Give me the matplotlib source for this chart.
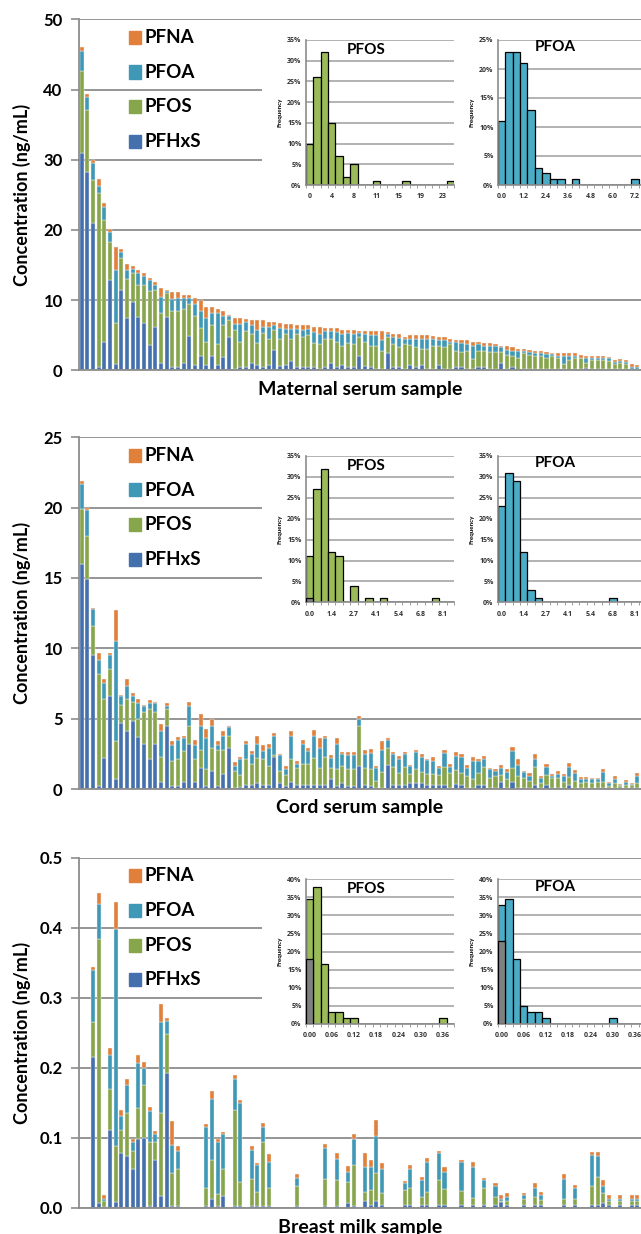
import matplotlib
matplotlib.use('Agg')
import matplotlib.pyplot as plt
from matplotlib.patches import Rectangle
import numpy as np

plt.rcParams['font.family'] = ['Lato', 'DejaVu Sans']
plt.rcParams['font.weight'] = 'bold'

# ---------------- data: maternal serum (ng/mL), samples sorted by total ----------------
hx1 = [30.9, 28.3, 21.0, 0.4, 4.1, 12.8, 0.9, 11.5, 7.5, 9.8,
       7.6, 6.8, 3.6, 6.2, 1.0, 7.6, 0.4, 0.4, 1.1, 4.9,
       0.7, 2.1, 0.7, 2.1, 0.8, 1.9, 4.7, 0.2, 0.4, 0.4,
       1.1, 0.7, 0.4, 0.7, 2.9, 0.6, 0.7, 1.3, 0.4, 0.4,
       0.4, 0.4, 0.2, 0.4, 1.1, 0.4, 0.7, 0.4, 0.4, 2.1,
       0.6, 0.4, 0.2, 0.2, 2.4, 0.4, 0.4, 0.2, 0.8, 0.5,
       0.7, 0.2, 0.2, 0.7, 0.2, 0.2, 0.4, 0.5, 0.2, 0.2,
       0.4, 0.4, 0.2, 0.2, 1.1, 0.2, 0.4, 0.1, 0.2, 0.2,
       0.2, 0.2, 0.2, 0.2, 0.2, 0.2, 0.1, 0.2, 0.2, 0.3,
       0.2, 0.2, 0.2, 0.2, 0.2, 0.2, 0.2, 0.1, 0.1]
os1 = [11.7, 8.8, 6.1, 24.8, 17.3, 5.5, 5.9, 4.5, 5.5, 4.0,
       4.6, 5.3, 7.7, 5.3, 7.1, 3.4, 8.0, 8.0, 7.6, 4.6,
       7.0, 3.9, 3.4, 4.3, 2.9, 4.5, 2.4, 5.6, 3.7, 5.2,
       4.1, 3.2, 4.9, 3.8, 2.8, 3.9, 4.5, 3.2, 4.7, 4.3,
       4.6, 3.5, 3.5, 4.0, 3.4, 3.7, 2.7, 3.5, 3.3, 2.7,
       3.5, 3.0, 3.2, 2.6, 2.3, 3.3, 2.9, 3.5, 2.8, 2.8,
       2.3, 2.9, 3.2, 2.7, 3.1, 3.5, 2.4, 2.1, 2.6, 1.4,
       2.4, 2.4, 2.4, 2.4, 1.5, 2.0, 1.6, 1.7, 2.3, 2.0,
       1.9, 1.8, 1.5, 1.8, 1.5, 0.7, 1.4, 1.5, 1.5, 0.7,
       1.3, 1.2, 1.3, 1.1, 0.7, 0.8, 0.7, 0.1, 0.1]
oa1 = [2.9, 1.9, 2.4, 1.1, 1.8, 1.4, 7.5, 0.8, 1.3, 0.6,
       1.6, 1.3, 1.5, 0.7, 2.4, 0.3, 1.7, 1.9, 1.6, 0.8,
       1.7, 2.4, 3.4, 1.8, 4.5, 1.3, 0.6, 0.8, 2.5, 1.3,
       1.2, 1.9, 0.9, 1.7, 0.7, 1.5, 0.7, 1.4, 0.8, 1.1,
       0.9, 1.6, 1.4, 1.2, 1.1, 1.3, 1.8, 1.4, 1.5, 0.5,
       1.1, 1.6, 1.6, 1.5, 0.4, 1.0, 1.3, 0.8, 0.9, 1.2,
       1.5, 1.4, 1.1, 0.9, 1.0, 0.4, 1.2, 1.3, 0.9, 1.8,
       0.9, 0.7, 0.8, 0.8, 0.7, 0.7, 0.8, 1.0, 0.3, 0.4,
       0.3, 0.5, 0.6, 0.3, 0.4, 1.1, 0.6, 0.3, 0.1, 0.8,
       0.3, 0.4, 0.3, 0.4, 0.3, 0.3, 0.3, 0.3, 0.2]
na1 = [0.5, 0.4, 0.4, 1.0, 0.7, 0.4, 3.2, 0.5, 0.8, 0.4,
       0.5, 0.5, 0.4, 0.4, 1.2, 0.2, 1.0, 0.8, 0.4, 0.4,
       0.9, 1.6, 1.5, 0.8, 0.6, 0.8, 0.2, 0.9, 0.9, 0.4,
       0.7, 1.3, 1.0, 0.7, 0.5, 0.7, 0.7, 0.7, 0.5, 0.6,
       0.5, 0.7, 1.1, 0.4, 0.4, 0.6, 0.6, 0.5, 0.5, 0.3,
       0.45, 0.6, 0.65, 1.35, 0.3, 0.5, 0.6, 0.3, 0.5, 0.5,
       0.5, 0.5, 0.4, 0.4, 0.4, 0.4, 0.3, 0.4, 0.6, 0.7,
       0.4, 0.4, 0.5, 0.3, 0.2, 0.5, 0.5, 0.2, 0.2, 0.3,
       0.3, 0.2, 0.3, 0.2, 0.4, 0.5, 0.4, 0.5, 0.4, 0.3,
       0.2, 0.2, 0.2, 0.2, 0.2, 0.3, 0.2, 0.35, 0.3]

# ---------------- data: cord serum (ng/mL) ----------------
hx2 = [16.0, 14.9, 9.5, 0.2, 2.2, 6.6, 0.7, 4.7, 4.1, 4.8,
       3.7, 3.2, 2.1, 3.2, 0.5, 4.5, 0.2, 0.2, 0.5, 3.2,
       0.5, 1.5, 0.2, 1.3, 0.2, 1.1, 2.9, 0.1, 0.15, 0.3,
       0.3, 0.45, 0.3, 0.3, 2.3, 0.45, 0.2, 0.5, 0.3, 0.3,
       0.3, 0.3, 0.3, 0.3, 0.7, 0.2, 0.45, 0.2, 0.2, 1.6,
       0.3, 0.24, 0.07, 0.1, 1.7, 0.26, 0.26, 0.26, 0.4, 0.4,
       0.4, 0.26, 0.26, 0.26, 0.26, 0.05, 0.35, 0.26, 0.1, 0.1,
       0.26, 0.26, 0.1, 0.1, 0.5, 0.1, 0.5, 0.1, 0.1, 0.05,
       0.26, 0.05, 0.26, 0.05, 0.1, 0.1, 0.26, 0.05, 0.1, 0.1,
       0.05, 0.05, 0.05, 0.05, 0.05, 0.05, 0.05, 0.05, 0.07]
os2 = [3.9, 3.1, 2.1, 8.0, 4.2, 1.9, 2.7, 1.3, 2.3, 1.4,
       1.3, 2.3, 3.6, 2.3, 1.8, 1.2, 1.8, 1.9, 2.2, 1.3,
       1.6, 1.3, 1.2, 1.6, 2.6, 1.7, 0.9, 1.2, 0.85, 1.8,
       1.5, 1.75, 1.8, 1.3, 0.1, 0.85, 0.8, 1.6, 1.2, 1.5,
       1.5, 1.9, 1.2, 2.0, 0.8, 1.2, 1.15, 1.2, 1.2, 2.9,
       1.2, 1.2, 0.5, 1.1, 1.2, 1.3, 0.9, 1.3, 0.7, 1.0,
       0.8, 0.8, 0.8, 0.7, 1.3, 1.1, 1.0, 0.9, 0.8, 0.6,
       0.9, 1.3, 0.7, 0.8, 0.5, 0.6, 1.0, 0.8, 0.7, 0.5,
       1.3, 0.35, 0.7, 0.75, 0.7, 0.4, 0.6, 0.5, 0.3, 0.4,
       0.35, 0.45, 0.45, 0.15, 0.35, 0.15, 0.25, 0.2, 0.35]
oa2 = [1.8, 1.8, 1.2, 1.0, 1.1, 1.0, 7.1, 0.6, 0.9, 0.4,
       1.1, 0.4, 0.4, 0.6, 1.8, 0.2, 1.1, 1.4, 0.9, 1.4,
       1.0, 1.7, 2.2, 1.6, 0.3, 1.0, 0.6, 0.3, 1.1, 1.1,
       0.7, 1.0, 0.6, 1.3, 1.4, 1.1, 0.4, 1.7, 0.3, 1.4,
       0.9, 1.6, 1.4, 1.3, 0.7, 1.8, 0.9, 1.0, 1.0, 0.5,
       1.0, 1.1, 0.9, 1.6, 0.6, 0.9, 1.0, 0.9, 0.5, 1.2,
       1.1, 1.0, 0.9, 0.5, 1.0, 0.4, 1.0, 1.1, 0.6, 1.3,
       0.8, 0.6, 0.6, 0.4, 0.5, 0.5, 1.2, 0.8, 0.4, 0.4,
       0.6, 0.4, 0.6, 0.1, 0.3, 0.4, 0.7, 0.6, 0.3, 0.2,
       0.3, 0.2, 0.7, 0.2, 0.3, 0.1, 0.2, 0.1, 0.5]
na2 = [0.2, 0.2, 0.1, 0.5, 0.3, 0.2, 2.2, 0.05, 0.5, 0.2,
       0.3, 0.1, 0.2, 0.1, 0.5, 0.2, 0.3, 0.2, 0.2, 0.3,
       0.4, 0.8, 0.7, 0.5, 0.3, 0.3, 0.1, 0.3, 0.2, 0.2,
       0.2, 0.6, 0.4, 0.3, 0.2, 0.1, 0.2, 0.3, 0.2, 0.3,
       0.2, 0.4, 0.7, 0.2, 0.2, 0.4, 0.1, 0.2, 0.2, 0.2,
       0.3, 0.3, 0.2, 0.6, 0.1, 0.2, 0.2, 0.2, 0.1, 0.2,
       0.2, 0.1, 0.3, 0.2, 0.2, 0.2, 0.3, 0.2, 0.2, 0.3,
       0.2, 0.2, 0.1, 0.1, 0.2, 0.2, 0.3, 0.4, 0.1, 0.2,
       0.3, 0.1, 0.2, 0.2, 0.2, 0.2, 0.3, 0.2, 0.15, 0.15,
       0.1, 0.1, 0.2, 0.1, 0.2, 0.05, 0.15, 0.1, 0.2]

# ---------------- data: breast milk (ng/mL) ----------------
hx3 = [0, 0, 0.216, 0.007, 0.002, 0.112, 0.009, 0.078, 0.074, 0.056,
       0.099, 0.100, 0.003, 0.069, 0.017, 0.193, 0.003, 0.003, 0, 0,
       0, 0, 0.003, 0.013, 0.003, 0.017, 0, 0.003, 0.003, 0,
       0.003, 0.003, 0.003, 0.003, 0, 0, 0, 0, 0.003, 0,
       0, 0, 0, 0.003, 0, 0.003, 0, 0.007, 0.003, 0,
       0.010, 0.004, 0.010, 0.004, 0, 0, 0, 0.004, 0.004, 0,
       0.004, 0.004, 0, 0.004, 0.004, 0, 0, 0.004, 0, 0.004,
       0, 0.004, 0, 0.004, 0.008, 0.004, 0, 0, 0.004, 0,
       0.004, 0.004, 0, 0, 0, 0.004, 0, 0.004, 0, 0,
       0.004, 0.004, 0.007, 0.004, 0, 0.004, 0, 0.004, 0.004]
os3 = [0, 0, 0.049, 0.377, 0.008, 0.058, 0.079, 0.034, 0.061, 0.026,
       0.044, 0.075, 0.091, 0.025, 0.118, 0.055, 0.047, 0.053, 0, 0,
       0, 0, 0.025, 0.056, 0.017, 0.039, 0, 0.137, 0.034, 0,
       0.038, 0.020, 0.091, 0.025, 0, 0, 0, 0, 0.029, 0,
       0, 0, 0, 0.038, 0, 0.037, 0, 0.030, 0.058, 0,
       0.013, 0.021, 0.040, 0.018, 0, 0, 0, 0.021, 0.025, 0,
       0.012, 0.019, 0, 0.036, 0.023, 0, 0, 0.020, 0, 0.010,
       0, 0.025, 0, 0.012, 0.002, 0.006, 0, 0, 0.009, 0,
       0.012, 0.008, 0, 0, 0, 0.009, 0, 0.009, 0, 0,
       0.027, 0.040, 0.015, 0.006, 0, 0.006, 0, 0.006, 0.006]
oa3 = [0, 0, 0.075, 0.050, 0.003, 0.048, 0.310, 0.020, 0.040, 0.012,
       0.064, 0.025, 0.045, 0.012, 0.130, 0.019, 0.040, 0.025, 0, 0,
       0, 0, 0.088, 0.087, 0.074, 0.049, 0, 0.044, 0.113, 0,
       0.042, 0.038, 0.022, 0.038, 0, 0, 0, 0, 0.011, 0,
       0, 0, 0, 0.045, 0, 0.030, 0, 0.014, 0.037, 0,
       0.035, 0.033, 0.053, 0.034, 0, 0, 0, 0.011, 0.026, 0,
       0.024, 0.042, 0, 0.038, 0.025, 0, 0, 0.041, 0, 0.045,
       0, 0.011, 0, 0.015, 0.003, 0.006, 0, 0, 0.005, 0,
       0.013, 0.006, 0, 0, 0, 0.028, 0, 0.016, 0, 0,
       0.044, 0.030, 0.009, 0.003, 0, 0.003, 0, 0.003, 0.003]
na3 = [0, 0, 0.004, 0.016, 0.005, 0.011, 0.039, 0.008, 0.009, 0.004,
       0.011, 0.008, 0.005, 0.004, 0.026, 0.004, 0.034, 0.007, 0, 0,
       0, 0, 0.004, 0.011, 0.004, 0.004, 0, 0.006, 0.004, 0,
       0.005, 0.003, 0.006, 0.011, 0, 0, 0, 0, 0.005, 0,
       0, 0, 0, 0.006, 0, 0.008, 0, 0.009, 0.007, 0,
       0.020, 0.011, 0.022, 0.008, 0, 0, 0, 0.003, 0.006, 0,
       0.004, 0.006, 0, 0.004, 0.007, 0, 0, 0.004, 0, 0.006,
       0, 0.003, 0, 0.005, 0.005, 0.006, 0, 0, 0.004, 0,
       0.007, 0.005, 0, 0, 0, 0.008, 0, 0.004, 0, 0,
       0.005, 0.006, 0.009, 0.005, 0, 0.005, 0, 0.005, 0.005]

# ---------------- histogram data (% of samples per bin) ----------------
h1_pfos = [10, 26, 32, 15, 7, 2, 5, 0, 0, 1, 0, 0, 0, 1, 0, 0, 0, 0, 0, 1]
h1_pfoa = [11, 23, 23, 21, 13, 3, 2, 1, 1, 0, 1, 0, 0, 0, 0, 0, 0, 0, 1, 0]
h2_pfos = [11, 27, 32, 12, 11, 0, 4, 0, 1, 0, 1, 0, 0, 0, 0, 0, 0, 1, 0, 0]
h2_pfoa = [23, 31, 29, 12, 3, 1, 0, 0, 0, 0, 0, 0, 0, 0, 0, 1, 0, 0, 0, 0]
h3_pfos = [34.5, 38, 16.5, 3.3, 3.3, 1.7, 1.7, 0, 0, 0, 0, 0, 0, 0, 0, 0, 0, 0, 1.7, 0]
h3_pfoa = [33, 34.5, 18, 5, 3.3, 3.3, 1.7, 0, 0, 0, 0, 0, 0, 0, 0, 1.7, 0, 0, 0, 0]
# share of the first bin below the detection limit (grey)
lod2_pfos, lod2_pfoa = 1, 0
lod3_pfos, lod3_pfoa = 18, 23
h1_pfos_lab = ['0', '4', '8', '11', '15', '19', '23']
h1_pfoa_lab = ['0.0', '1.2', '2.4', '3.6', '4.8', '6.0', '7.2']
h2_lab = ['0.0', '1.4', '2.7', '4.1', '5.4', '6.8', '8.1']
h3_lab = ['0.00', '0.06', '0.12', '0.18', '0.24', '0.30', '0.36']

compounds = ['PFHxS', 'PFOS', 'PFOA', 'PFNA']
colors = ['#4470AD', '#87A54B', '#3F98B5', '#E0803A']
hist_green = '#9BBB59'
hist_teal = '#4BACC6'
grid_c = '#8C8C8C'
small_font = ['Open Sans', 'DejaVu Sans']

W, H = 641, 1234
fig = plt.figure(figsize=(W / 100, H / 100), dpi=100)


def box(x0, y0, x1, y1):
    return [x0 / W, 1 - y1 / H, (x1 - x0) / W, (y1 - y0) / H]


def main_panel(series, ymax, step, fmt, top, bottom, xlabel):
    ax = fig.add_axes(box(79.3, top, 641, bottom), zorder=0)
    x = np.arange(len(series[0]))
    base = np.zeros(len(x))
    for vals, col in zip(series, colors):
        vals = np.array(vals, dtype=float)
        ax.bar(x, vals, 0.72, bottom=base, color=col, edgecolor='#f4f4f4', linewidth=0.3)
        base += vals
    ax.set_xlim(-0.4, 98.66)
    ax.set_ylim(0, ymax)
    ticks = np.arange(0, ymax + step / 2, step)
    ax.set_yticks(ticks)
    ax.set_yticklabels([fmt.format(t) for t in ticks], fontsize=12, fontweight='bold')
    ax.set_xticks([])
    ax.tick_params(axis='y', length=6, width=1.2, color=grid_c, pad=6)
    ax.yaxis.grid(True, color=grid_c, linewidth=1.3)
    ax.set_axisbelow(True)
    for s in ['top', 'right']:
        ax.spines[s].set_visible(False)
    for s in ['left', 'bottom']:
        ax.spines[s].set_color(grid_c)
        ax.spines[s].set_linewidth(1.3)
    fig.text(22 / W, 1 - (top + bottom) / 2 / H, 'Concentration (ng/mL)', rotation=90,
             ha='center', va='center', fontsize=13, fontweight='bold')
    fig.text(360 / W, 1 - (bottom + 19) / H, xlabel, ha='center', va='center',
             fontsize=14, fontweight='bold')
    # legend, top entry first
    for k, i in enumerate([3, 2, 1, 0]):
        yc = top + 18 + k * 34.7
        fig.patches.append(Rectangle((129 / W, 1 - (yc + 6.5) / H), 12 / W, 13 / H,
                                     color=colors[i], transform=fig.transFigure, zorder=1))
        fig.text(145 / W, 1 - yc / H, compounds[i], ha='left', va='center',
                 fontsize=13.5, fontweight='bold')
    return ax


def hist_inset(x0, top, bottom, freq, ymax, labels, col, title, tx, ty, lod=0):
    ax = fig.add_axes(box(x0, top, x0 + 148.5, bottom), zorder=3)
    ax.set_facecolor('none')
    b = np.arange(len(freq))
    ax.bar(b, freq, 1.0, color=col, edgecolor='black', linewidth=0.9, zorder=2)
    if lod:
        ax.bar([0], [lod], 1.0, color='#808080', edgecolor='black', linewidth=0.9, zorder=3)
    ax.set_xlim(-0.5, 19.5)
    ax.set_ylim(0, ymax)
    yt = np.arange(0, ymax + 1, 5)
    ax.set_yticks(yt)
    ax.set_yticklabels(['%d%%' % v for v in yt], fontsize=5, fontweight='bold',
                       color='#333333', family=small_font)
    ax.set_xticks(np.arange(0, 19, 3))
    ax.set_xticklabels(labels, fontsize=5, fontweight='bold', color='#333333',
                       family=small_font)
    ax.set_xticks(np.arange(-0.5, 20, 1), minor=True)
    ax.tick_params(axis='x', which='major', length=0, pad=6)
    ax.tick_params(axis='x', which='minor', length=2.5, color=grid_c)
    ax.tick_params(axis='y', length=0, pad=3)
    ax.yaxis.grid(True, color='#A6A6A6', linewidth=1.2, zorder=0)
    ax.set_axisbelow(True)
    for s in ['top', 'right']:
        ax.spines[s].set_visible(False)
    for s in ['left', 'bottom']:
        ax.spines[s].set_color(grid_c)
        ax.spines[s].set_linewidth(1.2)
    ax.set_ylabel('Frequency', fontsize=4.5, fontweight='bold', labelpad=3)
    ax.text(tx, ty, title, transform=ax.transAxes, ha='center', va='center',
            fontsize=11, fontweight='bold', zorder=5)


def white_box(y0, y1):
    fig.patches.append(Rectangle((262 / W, 1 - y1 / H), (W - 262) / W, (y1 - y0) / H,
                                 facecolor='white', edgecolor='none',
                                 transform=fig.transFigure, zorder=2))


# panel 1
main_panel([hx1, os1, oa1, na1], 50, 10, '{:.0f}', 19.3, 370.3, 'Maternal serum sample')
white_box(24, 215)
hist_inset(305.7, 40, 185, h1_pfos, 35, h1_pfos_lab, hist_green, 'PFOS', 0.41, 0.93)
hist_inset(497.7, 40, 185, h1_pfoa, 25, h1_pfoa_lab, hist_teal, 'PFOA', 0.39, 0.95)

# panel 2
main_panel([hx2, os2, oa2, na2], 25, 5, '{:.0f}', 437.3, 789, 'Cord serum sample')
white_box(442, 630)
hist_inset(305.7, 456, 602.3, h2_pfos, 35, h2_lab, hist_green, 'PFOS', 0.41, 0.93, lod2_pfos)
hist_inset(497.7, 456, 602.3, h2_pfoa, 35, h2_lab, hist_teal, 'PFOA', 0.39, 0.95, lod2_pfoa)

# panel 3
main_panel([hx3, os3, oa3, na3], 0.5, 0.1, '{:.1f}', 857.7, 1208, 'Breast milk sample')
white_box(862, 1050)
hist_inset(305.7, 879.3, 1024, h3_pfos, 40, h3_lab, hist_green, 'PFOS', 0.41, 0.93, lod3_pfos)
hist_inset(497.7, 879.3, 1024, h3_pfoa, 40, h3_lab, hist_teal, 'PFOA', 0.39, 0.95, lod3_pfoa)

fig.savefig('out.png', dpi=100)
